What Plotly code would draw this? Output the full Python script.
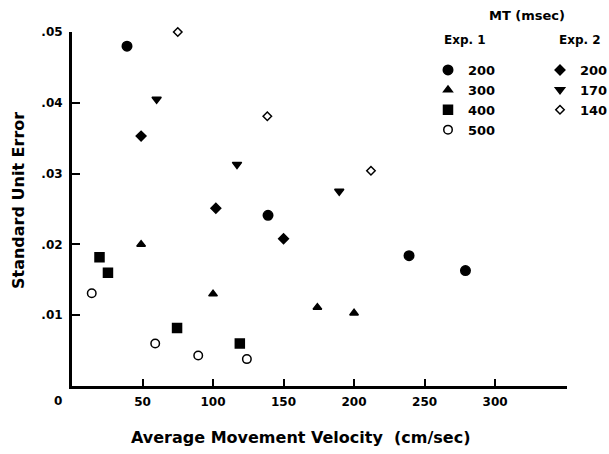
import plotly.graph_objects as go

# ---- data ----
exp1_mt200_x = [39, 139, 239, 279]
exp1_mt200_y = [0.0480, 0.0241, 0.0184, 0.0163]
exp1_mt300_x = [49, 100, 174, 200]
exp1_mt300_y = [0.0200, 0.0130, 0.0111, 0.0103]
exp1_mt400_x = [19.5, 25.5, 74.5, 119]
exp1_mt400_y = [0.0182, 0.0160, 0.0082, 0.0060]
exp1_mt500_x = [14, 59, 89.5, 124]
exp1_mt500_y = [0.0131, 0.0060, 0.0043, 0.0038]

exp2_mt200_x = [49, 102, 150]
exp2_mt200_y = [0.0353, 0.0251, 0.0208]
exp2_mt170_x = [60, 117, 189.5]
exp2_mt170_y = [0.0405, 0.0313, 0.0275]
exp2_mt140_x = [75, 138.5, 212]
exp2_mt140_y = [0.0500, 0.0381, 0.0304]

x_ticks = [50, 100, 150, 200, 250, 300]
y_ticks = [0.01, 0.02, 0.03, 0.04, 0.05]
y_ticktext = [".01", ".02", ".03", ".04", ".05"]

FONT = "DejaVu Sans"
W, H = 609, 454
L, R, T, B = 72, 42, 32, 68
PW, PH = W - L - R, H - T - B


def px(xp):
    return (xp - L) / PW


def py(yp):
    return (H - B - yp) / PH


fig = go.Figure()

series = [
    (exp1_mt200_x, exp1_mt200_y, "200", "circle", 9.5, "legend"),
    (exp1_mt300_x, exp1_mt300_y, "300", "triangle-up", 7.5, "legend"),
    (exp1_mt400_x, exp1_mt400_y, "400", "square", 9, "legend"),
    (exp1_mt500_x, exp1_mt500_y, "500", "circle-open", 8.5, "legend"),
    (exp2_mt200_x, exp2_mt200_y, "200", "diamond", 7.5, "legend2"),
    (exp2_mt170_x, exp2_mt170_y, "170", "triangle-down", 8, "legend2"),
    (exp2_mt140_x, exp2_mt140_y, "140", "diamond-open", 6.5, "legend2"),
]
for i, (xs, ys, name, sym, size, leg) in enumerate(series):
    fig.add_trace(go.Scatter(
        x=xs, y=ys, mode="markers", name=name, legend=leg,
        legendgroup=f"g{i}", cliponaxis=False,
        marker=dict(symbol=sym, size=size, color="black",
                    line=dict(color="black", width=1.5)),
    ))

axis_common = dict(
    showline=True, linecolor="black", linewidth=3, mirror=False,
    ticks="inside", tickcolor="black", tickwidth=2,
    showgrid=False, zeroline=False,
    tickfont=dict(family=FONT, size=12, color="black", weight="bold"),
)


def ann(text, xp, yp, size=12, **kw):
    return dict(text=text, x=px(xp), y=py(yp), xref="paper", yref="paper",
                xanchor="center", yanchor="middle", showarrow=False,
                font=dict(family=FONT, size=size, color="black", weight="bold"), **kw)


legend_font = dict(family=FONT, size=13, color="black", weight="bold")

fig.update_layout(
    width=W, height=H,
    margin=dict(l=L, r=R, t=T, b=B, autoexpand=False),
    paper_bgcolor="white", plot_bgcolor="white",
    xaxis=dict(range=[0, 351], tickvals=x_ticks, ticklen=7,
               ticklabelstandoff=3, **axis_common),
    yaxis=dict(range=[0, 0.05], tickvals=y_ticks, ticktext=y_ticktext,
               ticklen=8, ticklabelstandoff=4, **axis_common),
    showlegend=True,
    legend=dict(x=px(428), y=py(55), xanchor="left", yanchor="top",
                bgcolor="rgba(0,0,0,0)", traceorder="grouped", tracegroupgap=0,
                font=legend_font),
    legend2=dict(x=px(540), y=py(55), xanchor="left", yanchor="top",
                 bgcolor="rgba(0,0,0,0)", traceorder="grouped", tracegroupgap=0,
                 font=legend_font),
    annotations=[
        ann("MT (msec)", 527, 15, size=13),
        ann("Exp. 1", 465, 40),
        ann("Exp. 2", 580, 40),
        ann("0", 58, 401),
        ann("Average Movement Velocity\u00a0 (cm/sec)", 301, 437, size=16),
        ann("Standard Unit Error", 18, 201, size=16, textangle=-90),
    ],
)

fig.write_html("out.html")
